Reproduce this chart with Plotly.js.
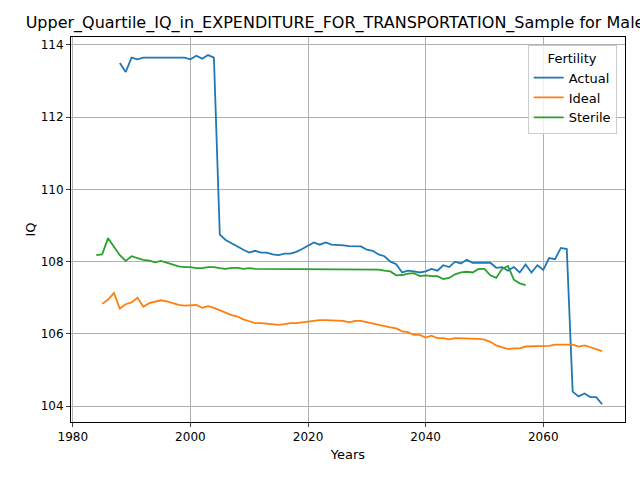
<!DOCTYPE html>
<html>
<head>
<meta charset="utf-8">
<script src="https://cdn.plot.ly/plotly-3.0.1.min.js"></script>
<style>body{margin:0}</style>
</head>
<body>
<div id="chart" style="width:640px;height:480px"></div>
<script>
// yearly values
const actualYears = [];
for (let y = 1988; y <= 2070; y++) actualYears.push(y);
const actualIQ = [113.5, 113.25, 113.65, 113.6, 113.65, 113.65, 113.65, 113.65, 113.65, 113.65, 113.65, 113.65,
  113.6, 113.7, 113.62, 113.72, 113.65, 108.75, 108.6, 108.5, 108.42, 108.33, 108.25, 108.3, 108.25, 108.25,
  108.2, 108.18, 108.22, 108.22, 108.27, 108.35, 108.45, 108.53, 108.47, 108.53, 108.47, 108.47, 108.45, 108.43,
  108.43, 108.42, 108.33, 108.3, 108.2, 108.15, 108.0, 107.93, 107.7, 107.75, 107.73, 107.7, 107.73, 107.8,
  107.75, 107.9, 107.85, 108.0, 107.95, 108.05, 107.97, 107.97, 107.97, 107.97, 107.83, 107.85, 107.75, 107.85,
  107.7, 107.92, 107.7, 107.9, 107.77, 108.1, 108.07, 108.38, 108.35, 104.4, 104.27, 104.35, 104.25, 104.25, 104.05];

const idealYears = [];
for (let y = 1985; y <= 2070; y++) idealYears.push(y);
const idealIQ = [106.83, 106.95, 107.13, 106.7, 106.82, 106.87, 107.0, 106.75, 106.85, 106.88, 106.93, 106.9,
  106.85, 106.8, 106.78, 106.78, 106.8, 106.72, 106.77, 106.72, 106.65, 106.58, 106.52, 106.48, 106.4, 106.35,
  106.3, 106.3, 106.28, 106.28, 106.25, 106.27, 106.3, 106.3, 106.32, 106.35, 106.38, 106.38, 106.38, 106.37,
  106.37, 106.36, 106.32, 106.36, 106.36, 106.32, 106.3, 106.26, 106.22, 106.18, 106.15, 106.07, 106.05, 105.97,
  105.97, 105.9, 105.95, 105.88, 105.88, 105.85, 105.88, 105.88, 105.88, 105.87, 105.86, 105.84, 105.78, 105.68,
  105.62, 105.58, 105.6, 105.6, 105.65, 105.65, 105.67, 105.67, 105.67, 105.7, 105.7, 105.7, 105.7, 105.65,
  105.68, 105.63, 105.58, 105.52];

const sterileYears = [];
for (let y = 1984; y <= 2057; y++) sterileYears.push(y);
const sterileIQ = [108.18, 108.2, 108.65, 108.4, 108.18, 108.02, 108.15, 108.1, 108.05, 108.03, 107.98, 108.02,
  107.97, 107.9, 107.87, 107.85, 107.85, 107.82, 107.82, 107.85, 107.85, 107.82, 107.8, 107.83, 107.83, 107.8,
  107.82, 107.8, 107.8, 107.8, 107.8, 107.8, 107.8, 107.8, 107.8, 107.8, 107.8, 107.8, 107.8, 107.8, 107.8,
  107.8, 107.8, 107.8, 107.8, 107.8, 107.8, 107.8, 107.78, 107.75, 107.73, 107.62, 107.63, 107.67, 107.68, 107.6,
  107.62, 107.6, 107.6, 107.52, 107.55, 107.65, 107.7, 107.72, 107.7, 107.8, 107.8, 107.62, 107.55, 107.8,
  107.88, 107.5, 107.4, 107.35];

const traces = [
  {x: actualYears, y: actualIQ, name: "Actual", color: "#1f77b4"},
  {x: idealYears, y: idealIQ, name: "Ideal", color: "#ff7f0e"},
  {x: sterileYears, y: sterileIQ, name: "Sterile", color: "#2ca02c"}
].map(t => ({type: "scatter", mode: "lines", x: t.x, y: t.y, name: t.name, line: {color: t.color, width: 1.8}}));

const axisStyle = {
  showgrid: true, gridcolor: "#b0b0b0", gridwidth: 1, zeroline: false,
  showline: true, linecolor: "black", mirror: true, ticks: "outside", ticklen: 4,
  tickfont: {size: 12, color: "black"}
};

const layout = {
  width: 640, height: 480,
  margin: {l: 71, r: 15, t: 37, b: 58},
  font: {family: "DejaVu Sans", color: "black"},
  paper_bgcolor: "white", plot_bgcolor: "white",
  title: {text: "Upper_Quartile_IQ_in_EXPENDITURE_FOR_TRANSPORTATION_Sample for Males", font: {size: 16}, x: 0.53, xanchor: "center", y: 0.965},
  xaxis: Object.assign({}, axisStyle, {range: [1979.7, 2073.9], dtick: 20, title: {text: "Years", font: {size: 13}, standoff: 6}}),
  yaxis: Object.assign({}, axisStyle, {range: [103.56, 114.22], dtick: 2, title: {text: "IQ", font: {size: 13}}}),
  legend: {
    title: {text: "Fertility", side: "top center", font: {size: 13}},
    x: 0.985, y: 0.98, xanchor: "right", yanchor: "top",
    bordercolor: "#cccccc", borderwidth: 1, bgcolor: "rgba(255,255,255,0.8)", font: {size: 13}
  },
  showlegend: true
};

Plotly.newPlot("chart", traces, layout, {displayModeBar: false});
</script>
</body>
</html>
